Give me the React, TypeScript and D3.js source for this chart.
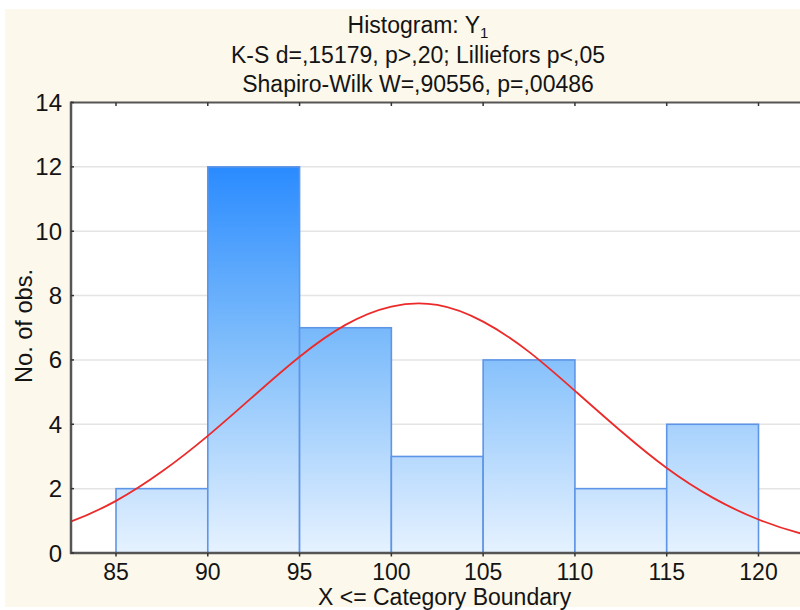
import * as d3 from "d3";
import React, { useRef, useEffect } from "react";

// histogram bins (lower edge, upper edge, count)
const binStarts = [85, 90, 95, 100, 105, 110, 115];
const binEnds = [90, 95, 100, 105, 110, 115, 120];
const counts = [2, 12, 7, 3, 6, 2, 4];

// expected normal curve
const curveX = [80, 82.5, 85, 87.5, 90, 92.5, 95, 97.5, 100, 102.5, 105, 107.5, 110, 112.5, 115, 117.5, 120, 122.5, 125];
const curveY = [0.53, 0.97, 1.62, 2.53, 3.64, 4.88, 6.1, 7.09, 7.66, 7.71, 7.19, 6.25, 5.04, 3.79, 2.64, 1.72, 1.04, 0.58, 0.3];

const xTicks = [85, 90, 95, 100, 105, 110, 115, 120];
const yTicks = [0, 2, 4, 6, 8, 10, 12, 14];

function App() {
  const svgRef = useRef<SVGSVGElement>(null);
  const width = 800;
  const height = 610;
  const marginLeft = 71; // left edge of plot
  const marginTop = 102.5; // top edge of plot
  const plotBottom = 553;
  const plotRight = 815;

  useEffect(() => {
    const svg = d3.select(svgRef.current);
    svg.selectAll("*").remove();

    const x = d3.scaleLinear().domain([85, 120]).range([116, 758.5]);
    const y = d3.scaleLinear().domain([0, 14]).range([plotBottom, marginTop]);

    const font = "Arial, 'Liberation Sans', sans-serif";
    const ink = "#141414";

    // cream background
    svg.append("rect").attr("x", 0).attr("y", 0).attr("width", width).attr("height", height).attr("fill", "#ffffff");
    svg.append("rect").attr("x", 5).attr("y", 9).attr("width", width - 5).attr("height", height - 12).attr("fill", "#fcf8eb");

    // plot area
    svg.append("rect")
      .attr("x", marginLeft).attr("y", marginTop)
      .attr("width", plotRight - marginLeft).attr("height", plotBottom - marginTop)
      .attr("fill", "#ffffff");

    const defs = svg.append("defs");
    const grad = defs.append("linearGradient")
      .attr("id", "barGrad")
      .attr("gradientUnits", "userSpaceOnUse")
      .attr("x1", 0).attr("x2", 0)
      .attr("y1", y(12)).attr("y2", y(0));
    grad.append("stop").attr("offset", "0%").attr("stop-color", "#2a8bff");
    grad.append("stop").attr("offset", "45%").attr("stop-color", "#7dbcfb");
    grad.append("stop").attr("offset", "100%").attr("stop-color", "#e6f2ff");

    defs.append("clipPath").attr("id", "plotClip")
      .append("rect")
      .attr("x", marginLeft).attr("y", marginTop)
      .attr("width", plotRight - marginLeft).attr("height", plotBottom - marginTop);

    // gridlines
    svg.append("g")
      .selectAll("line")
      .data(yTicks.filter(d => d > 0 && d < 14))
      .enter()
      .append("line")
      .attr("x1", marginLeft).attr("x2", plotRight)
      .attr("y1", d => y(d)).attr("y2", d => y(d))
      .attr("stroke", "#e4e4e4")
      .attr("stroke-width", 1.5);

    // bars
    svg.append("g")
      .selectAll("rect")
      .data(counts)
      .enter()
      .append("rect")
      .attr("x", (d, i) => x(binStarts[i]))
      .attr("y", d => y(d))
      .attr("width", (d, i) => x(binEnds[i]) - x(binStarts[i]))
      .attr("height", d => plotBottom - y(d))
      .attr("fill", "url(#barGrad)")
      .attr("stroke", "#5f95e6")
      .attr("stroke-width", 1.6);

    // normal curve
    const line = d3.line<number>()
      .x((d, i) => x(curveX[i]))
      .y(d => y(d))
      .curve(d3.curveNatural);
    svg.append("path")
      .datum(curveY)
      .attr("d", line)
      .attr("clip-path", "url(#plotClip)")
      .attr("fill", "none")
      .attr("stroke", "#ec2a2a")
      .attr("stroke-width", 1.8);

    // axes frame
    svg.append("line")
      .attr("x1", marginLeft).attr("x2", plotRight)
      .attr("y1", marginTop).attr("y2", marginTop)
      .attr("stroke", "#555").attr("stroke-width", 2);
    svg.append("line")
      .attr("x1", marginLeft).attr("x2", marginLeft)
      .attr("y1", marginTop - 1).attr("y2", plotBottom + 1)
      .attr("stroke", "#555").attr("stroke-width", 2.5);
    svg.append("line")
      .attr("x1", marginLeft - 1).attr("x2", plotRight)
      .attr("y1", plotBottom).attr("y2", plotBottom)
      .attr("stroke", "#555").attr("stroke-width", 2.5);

    // ticks
    const tg = svg.append("g").attr("stroke", "#333").attr("stroke-width", 1.5);
    xTicks.forEach(t => {
      tg.append("line").attr("x1", x(t)).attr("x2", x(t)).attr("y1", plotBottom).attr("y2", plotBottom + 3.5);
      tg.append("line").attr("x1", x(t)).attr("x2", x(t)).attr("y1", marginTop).attr("y2", marginTop + 3.5);
    });
    yTicks.forEach(t => {
      tg.append("line").attr("x1", marginLeft).attr("x2", marginLeft + 3).attr("y1", y(t)).attr("y2", y(t));
    });

    // tick labels
    svg.append("g")
      .selectAll("text")
      .data(xTicks)
      .enter()
      .append("text")
      .attr("x", d => x(d))
      .attr("y", 580)
      .attr("text-anchor", "middle")
      .style("font-family", font)
      .style("font-size", "23px")
      .attr("fill", ink)
      .text(d => d);

    svg.append("g")
      .selectAll("text")
      .data(yTicks)
      .enter()
      .append("text")
      .attr("x", 62)
      .attr("y", d => y(d) + 8.5)
      .attr("text-anchor", "end")
      .style("font-family", font)
      .style("font-size", "24px")
      .attr("fill", ink)
      .text(d => d);

    // axis titles
    svg.append("text")
      .attr("x", 318)
      .attr("y", 605)
      .attr("text-anchor", "start")
      .style("font-family", font)
      .style("font-size", "23px")
      .attr("fill", ink)
      .text("X <= Category Boundary");

    svg.append("text")
      .attr("transform", `translate(32, 326) rotate(-90)`)
      .attr("text-anchor", "middle")
      .attr("textLength", 114)
      .attr("lengthAdjust", "spacingAndGlyphs")
      .style("font-family", font)
      .style("font-size", "24px")
      .attr("fill", ink)
      .text("No. of obs.");

    // titles
    const cx = 418;
    const t1 = svg.append("text")
      .attr("x", cx)
      .attr("y", 33)
      .attr("text-anchor", "middle")
      .style("font-family", font)
      .style("font-size", "23px")
      .attr("fill", ink);
    t1.append("tspan").text("Histogram: Y");
    t1.append("tspan").attr("dy", 5).style("font-size", "15px").text("1");

    svg.append("text")
      .attr("x", cx)
      .attr("y", 63)
      .attr("text-anchor", "middle")
      .style("font-family", font)
      .style("font-size", "23px")
      .attr("fill", ink)
      .text("K-S d=,15179, p>,20; Lilliefors p<,05");

    svg.append("text")
      .attr("x", cx)
      .attr("y", 92)
      .attr("text-anchor", "middle")
      .style("font-family", font)
      .style("font-size", "23px")
      .attr("fill", ink)
      .text("Shapiro-Wilk W=,90556, p=,00486");
  }, []);

  return (
    <div style={{ position: "absolute", left: 0, top: 0 }}>
      <svg ref={svgRef} width={width} height={height} style={{ display: "block" }}></svg>
    </div>
  );
}

export default App;
